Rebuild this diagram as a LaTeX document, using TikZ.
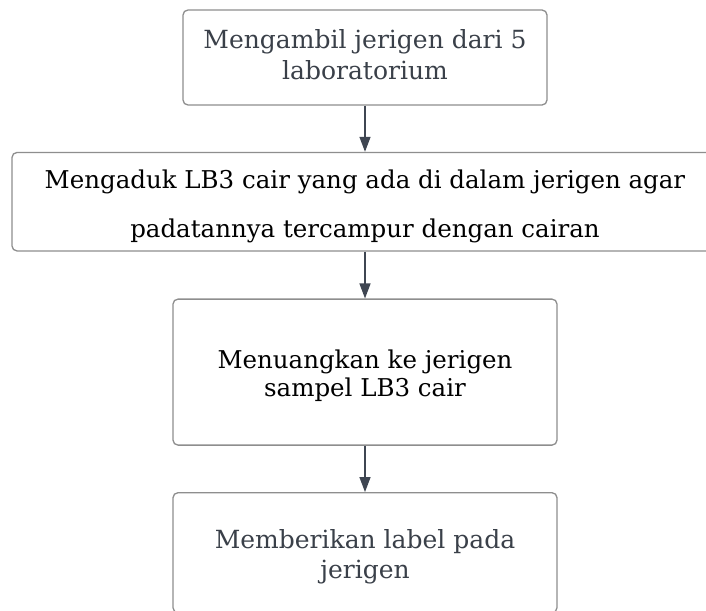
\documentclass[tikz,border=0pt]{standalone}
\usepackage{fontspec}
\setmainfont{DejaVu Serif}
\usetikzlibrary{arrows.meta}

\definecolor{edgegray}{HTML}{8E8E8E}
\definecolor{arrowgray}{HTML}{3F4652}
\definecolor{softtext}{HTML}{3A4049}

% two centred lines; the invisible rules fix the block's top and bottom
\newcommand\pairlines[4]{\rule{0pt}{#3pt}#1\\#2\rule[-#4pt]{0pt}{#4pt}}

\tikzset{
  stepbox/.style={draw=edgegray, line width=1.3pt, rounded corners=5pt,
    fill=white, align=center, inner sep=0pt},
  flow/.style={draw=arrowgray, line width=1.3pt,
    -{Triangle[length=15pt,width=11pt]}},
}

\begin{document}
\begin{tikzpicture}[x=1pt,y=-1pt]
\useasboundingbox (0,0) rectangle (706,610);
\clip (0,0) rectangle (706,610);
\fill[white] (0,0) rectangle (706,610);

\node[stepbox, minimum width=364pt, minimum height=95pt, text=softtext,
      font=\fontsize{25}{31}\selectfont] (s1) at (365,57.5)
  {\pairlines{Mengambil jerigen dari 5}{laboratorium}{21}{8.7}};

\node[stepbox, minimum width=706pt, minimum height=98.5pt, text=black,
      font=\fontsize{24.5}{49.5}\selectfont] (s2) at (365,201.7)
  {\pairlines{Mengaduk LB3 cair yang ada di dalam jerigen agar}{padatannya tercampur dengan cairan}{29.1}{7}};

\node[stepbox, minimum width=384pt, minimum height=146pt, text=black,
      font=\fontsize{24.5}{28.5}\selectfont] (s3) at (365,372.1)
  {\pairlines{Menuangkan ke jerigen}{sampel LB3 cair}{27.8}{7}};

\node[stepbox, minimum width=384pt, minimum height=120pt, text=softtext,
      font=\fontsize{25}{29.7}\selectfont] (s4) at (365,552.7)
  {\pairlines{Memberikan label pada}{jerigen}{27.9}{7}};

\draw[flow] (s1) -- (s2);
\draw[flow] (s2) -- (s3);
\draw[flow] (s3) -- (s4);
\end{tikzpicture}
\end{document}
